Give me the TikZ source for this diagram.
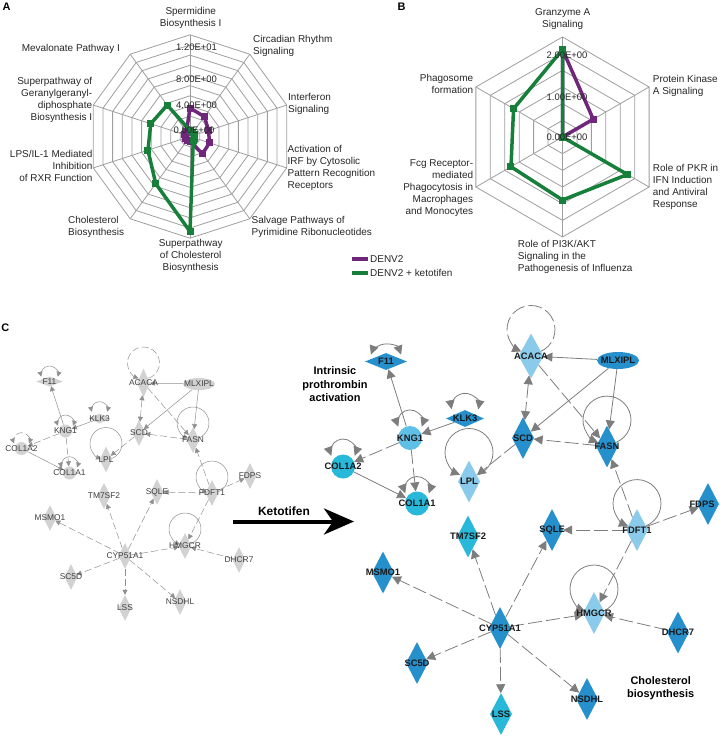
\documentclass[tikz,border=0pt]{standalone}
\usepackage{fontspec}
\setmainfont{Liberation Sans}
\usetikzlibrary{shapes.geometric,arrows.meta}

\definecolor{denvpurple}{RGB}{112,38,122}
\definecolor{ketogreen}{RGB}{22,128,58}
\definecolor{gridgray}{RGB}{158,158,158}
\definecolor{genegray}{RGB}{210,210,210}
\definecolor{edgegray}{RGB}{125,125,125}
\definecolor{hubdark}{RGB}{38,144,205}
\definecolor{hubmid}{RGB}{95,191,231}
\definecolor{hublight}{RGB}{138,203,235}
\definecolor{hubcyan}{RGB}{40,184,218}

\pgfdeclarelayer{edges}
\pgfsetlayers{edges,main}

% self-interaction: arc above a node, lifted by #3, radius #4, from angle #5 to #6
\newcommand{\selfarc}[6]{\draw[#1] ([yshift=#3, shift={(#5:#4)}]#2.center) arc[start angle=#5, end angle=#6, radius=#4];}

\begin{document}
\begin{tikzpicture}[
    x=1bp, y=-1bp,
    lab/.style={font=\fontsize{10}{12}\selectfont, text=black!85, inner sep=0pt},
    ticklab/.style={font=\fontsize{9.5}{11}\selectfont, text=black!85, inner sep=0pt},
    panel/.style={font=\fontsize{11}{13}\selectfont\bfseries, inner sep=0pt},
    note/.style={font=\fontsize{11}{13.5}\selectfont\bfseries, inner sep=0pt, align=center},
    radargrid/.style={draw=gridgray, line width=0.8bp},
    denvline/.style={draw=denvpurple, line width=3.5bp, line join=round},
    ketoline/.style={draw=ketogreen, line width=3.5bp, line join=round},
    denvmark/.style={rectangle, fill=denvpurple, minimum size=7bp, inner sep=0pt},
    ketomark/.style={rectangle, fill=ketogreen, minimum size=7bp, inner sep=0pt},
    gtip/.tip={Triangle[length=5bp,width=5bp]},
    btip/.tip={Triangle[length=9bp,width=9bp]},
    gdia/.style={diamond, fill=genegray, minimum width=13bp, minimum height=26bp, inner sep=0pt},
    gwide/.style={diamond, fill=genegray, minimum width=#1, minimum height=10bp, inner sep=0pt},
    gcirc/.style={circle, fill=genegray, minimum size=13bp, inner sep=0pt},
    goval/.style={ellipse, fill=genegray, minimum width=32bp, minimum height=12bp, inner sep=0pt},
    glabel/.style={font=\fontsize{8.4}{10}\selectfont, text=black!75, inner sep=0pt},
    glab/.style={label={[glabel]center:#1}},
    gline/.style={draw=edgegray!85, line width=0.5bp},
    gdash/.style={gline, dash pattern=on 7bp off 3bp},
    bdia/.style={diamond, fill=#1, minimum width=22bp, minimum height=42bp, inner sep=0pt},
    bdia/.default=hubdark,
    bwide/.style={diamond, fill=hubdark, minimum width=#1, minimum height=17bp, inner sep=0pt},
    bcirc/.style={circle, fill=#1, minimum size=24bp, inner sep=0pt},
    bcirc/.default=hubcyan,
    boval/.style={ellipse, fill=hubdark, minimum width=42bp, minimum height=17bp, inner sep=0pt},
    blabel/.style={font=\fontsize{9.4}{11}\selectfont\bfseries, text=black!90, inner sep=0pt},
    blab/.style={label={[blabel]center:#1}},
    bline/.style={draw=edgegray, line width=0.8bp},
    bdash/.style={bline, dash pattern=on 14bp off 4bp}
]
\useasboundingbox (0,0) rectangle (720,737);

% PANEL A
\node[panel] (pA) at (6.5,6.5) {A};
\begin{scope}[shift={(190,136.5)}]
  \foreach \k in {1,...,10}
    \draw[radargrid] (90:\k*10.17bp) \foreach \i in {1,...,9} {-- (90-36*\i:\k*10.17bp)} -- cycle;
  \foreach \i in {0,...,9}
    \draw[radargrid] (0,0) -- (90-36*\i:101.7bp);
  \draw[denvline] (90:28.5bp) -- (54:24.5bp) -- (18:19.5bp) -- (-18:20.5bp) -- (-54:21.3bp)
    -- (-90:5bp) -- (-126:5bp) -- (-162:5bp) -- (162:6bp) -- (126:6bp) -- cycle;
  \foreach \a/\r in {90/28.5bp, 54/24.5bp, 18/19.5bp, -18/20.5bp, -54/21.3bp, -90/5bp, -126/5bp, -162/5bp, 162/6bp, 126/6bp}
    \node[denvmark] at (\a:\r) {};
  \draw[ketoline] (90:6bp) -- (54:5bp) -- (18:5bp) -- (-18:5bp) -- (-54:5.5bp)
    -- (-90:95bp) -- (-126:58.3bp) -- (-162:44.2bp) -- (162:41.3bp) -- (126:38.8bp) -- cycle;
  \foreach \a/\r in {90/6bp, 54/5bp, 18/5bp, -18/5bp, -54/5.5bp, -90/95bp, -126/58.3bp, -162/44.2bp, 162/41.3bp, 126/38.8bp}
    \node[ketomark] at (\a:\r) {};
\end{scope}
\node[ticklab] (a12) at (196.5,47) {1.20E+01};
\node[ticklab] (a8) at (196.5,79) {8.00E+00};
\node[ticklab] (a4) at (196.5,105) {4.00E+00};
\node[ticklab] (a0) at (194,130) {0.00E+00};

\node[lab, align=center] (spermidine) at (190.7,18) {Spermidine\\Biosynthesis I};
\node[lab, align=left, anchor=west] (circadian) at (253,46) {Circadian Rhythm\\Signaling};
\node[lab, align=left, anchor=west] (interferon) at (288,103.5) {Interferon\\Signaling};
\node[lab, align=left, anchor=west] (irf) at (287.5,168) {Activation of\\IRF by Cytosolic\\Pattern Recognition\\Receptors};
\node[lab, align=left, anchor=west] (salvage) at (251.5,227) {Salvage Pathways of\\Pyrimidine Ribonucleotides};
\node[lab, align=center] (superchol) at (190.7,256) {Superpathway\\of Cholesterol\\Biosynthesis};
\node[lab, align=left, anchor=west] (cholbio) at (68,227) {Cholesterol\\Biosynthesis};
\node[lab, align=right, anchor=east] (lps) at (92.7,165.7) {LPS/IL-1 Mediated\\Inhibition\\of RXR Function};
\node[lab, align=right, anchor=east] (geranyl) at (92.3,100) {Superpathway of\\Geranylgeranyl-\\diphosphate\\Biosynthesis I};
\node[lab, anchor=east] (mevalonate) at (120,49) {Mevalonate Pathway I};

% legend
\coordinate (legD1) at (351.5,259);
\coordinate (legD2) at (368,259);
\coordinate (legK1) at (351.5,273);
\coordinate (legK2) at (368,273);
\draw[denvline] (legD1) -- (legD2);
\draw[ketoline] (legK1) -- (legK2);
\node[lab, anchor=west] (legDtext) at (370,259) {DENV2};
\node[lab, anchor=west] (legKtext) at (370,273) {DENV2 + ketotifen};

% PANEL B
\node[panel] (pB) at (401.7,6.5) {B};
\begin{scope}[shift={(562.5,137)}]
  \foreach \k in {1,...,6}
    \draw[radargrid] (90:\k*16.67bp) \foreach \i in {1,...,5} {-- (90-60*\i:\k*16.67bp)} -- cycle;
  \foreach \i in {0,...,5}
    \draw[radargrid] (0,0) -- (90-60*\i:100bp);
  \draw[denvline] (90:87.5bp) -- (30:35.5bp) -- (-30:0bp) -- (-90:0bp) -- (210:0bp) -- (150:0bp) -- cycle;
  \foreach \a/\r in {90/87.5bp, 30/35.5bp, -30/0bp, -90/0bp, 210/0bp, 150/0bp}
    \node[denvmark] at (\a:\r) {};
  \draw[ketoline] (90:87.5bp) -- (30:0bp) -- (-30:75bp) -- (-90:63bp) -- (210:59.5bp) -- (150:56.5bp) -- cycle;
  \foreach \a/\r in {90/87.5bp, 30/0bp, -30/75bp, -90/63bp, 210/59.5bp, 150/56.5bp}
    \node[ketomark] at (\a:\r) {};
\end{scope}
\node[ticklab] (b2) at (567,55) {2.00E+00};
\node[ticklab] (b1) at (567,97) {1.00E+00};
\node[ticklab] (b0) at (567,137) {0.00E+00};

\node[lab, align=center] (granzyme) at (562.7,19) {Granzyme A\\Signaling};
\node[lab, align=left, anchor=west] (pka) at (652.7,86) {Protein Kinase\\A Signaling};
\node[lab, align=left, anchor=west] (pkr) at (652.7,187) {Role of PKR in\\IFN Induction\\and Antiviral\\Response};
\node[lab, align=left, anchor=west] (pi3k) at (517.7,257) {Role of PI3K/AKT\\Signaling in the\\Pathogenesis of Influenza};
\node[lab, align=right, anchor=east] (fcg) at (473.3,188.5) {Fcg Receptor-\\mediated\\Phagocytosis in\\Macrophages\\and Monocytes};
\node[lab, align=right, anchor=east] (phago) at (473.3,83.5) {Phagosome\\formation};

% PANEL C
\node[panel] (pC) at (5.3,328) {C};

% network before ketotifen
\node[gwide=27bp, glab=F11] (F11a) at (49.5,381.5) {};
\node[gdia, glab=ACACA, minimum height=29bp] (ACACAa) at (143.5,383) {};
\node[goval, glab=MLXIPL] (MLXIPLa) at (199,384) {};
\node[gwide=22bp, glab=KLK3] (KLK3a) at (99.5,418.5) {};
\node[gcirc, glab=KNG1] (KNG1a) at (65.5,431) {};
\node[gdia, glab=SCD] (SCDa) at (139,433) {};
\node[gdia, glab=FASN] (FASNa) at (193,440) {};
\node[gcirc, glab=COL1A2] (COL1A2a) at (21.5,448.5) {};
\node[gdia, glab=LPL] (LPLa) at (106,459.5) {};
\node[gcirc, glab=COL1A1] (COL1A1a) at (69.5,473) {};
\node[gdia, glab=FDPS] (FDPSa) at (250,476) {};
\node[gdia, glab=TM7SF2] (TM7SF2a) at (104,496) {};
\node[gdia, glab=SQLE] (SQLEa) at (157,492) {};
\node[gdia, glab=FDFT1] (FDFT1a) at (212,493) {};
\node[gdia, glab=MSMO1] (MSMO1a) at (50,518) {};
\node[gdia, glab=HMGCR] (HMGCRa) at (185,546) {};
\node[gdia, glab=CYP51A1] (CYP51A1a) at (125,556) {};
\node[gdia, glab=DHCR7] (DHCR7a) at (239,560) {};
\node[gdia, glab=SC5D] (SC5Da) at (71,577) {};
\node[gdia, glab=LSS] (LSSa) at (125,608) {};
\node[gdia, glab=NSDHL] (NSDHLa) at (180,602) {};

\begin{pgfonlayer}{edges}
\selfarc{gline, gtip-gtip}{F11a}{7bp}{8.5bp}{-15}{195}
\selfarc{gline, gtip-gtip}{KNG1a}{8bp}{8bp}{-20}{200}
\selfarc{gline, gtip-gtip}{KLK3a}{8.8bp}{8bp}{-15}{195}
\selfarc{gdash, gtip-gtip}{COL1A2a}{7.8bp}{8bp}{-20}{200}
\selfarc{gline, gtip-gtip}{COL1A1a}{8.3bp}{8bp}{-20}{200}
\selfarc{gline, -gtip}{LPLa}{16bp}{16bp}{-72}{252}
\selfarc{gdash, -gtip}{ACACAa}{20bp}{16bp}{-72}{252}
\selfarc{gline, -gtip}{FASNa}{17bp}{16bp}{-72}{252}
\selfarc{gline, -gtip}{FDFT1a}{16bp}{16bp}{-72}{252}
\selfarc{gline, -gtip}{HMGCRa}{17bp}{16bp}{-72}{252}

\draw[gline, -gtip] (KNG1a) -- (F11a);
\draw[gline, -gtip] (KLK3a) -- (KNG1a);
\draw[gline, -gtip] (COL1A2a) -- (COL1A1a);
\draw[gline, -gtip] (MLXIPLa) -- (ACACAa);
\draw[gline, -gtip] (MLXIPLa) -- (SCDa);
\draw[gline, -gtip] (MLXIPLa) -- (FASNa);
\draw[gdash, -gtip] (KNG1a) -- (COL1A2a);
\draw[gdash, -gtip] (KNG1a) -- (COL1A1a);
\draw[gdash, gtip-gtip] (ACACAa) -- (SCDa);
\draw[gdash, -gtip] (ACACAa) -- (FASNa);
\draw[gdash, -gtip] (FASNa) -- (SCDa);
\draw[gdash, -gtip] (SCDa) -- (LPLa);
\draw[gdash, -gtip] (FDFT1a) -- (FASNa);
\draw[gdash, -gtip] (FDFT1a) -- (FDPSa);
\draw[gdash, -gtip] (FDFT1a) -- (SQLEa);
\draw[gdash, -gtip] (FDFT1a) -- (HMGCRa);
\draw[gdash, -gtip] (DHCR7a) -- (HMGCRa);
\foreach \t in {HMGCRa, SQLEa, TM7SF2a, MSMO1a, SC5Da, LSSa, NSDHLa}
  \draw[gdash, -gtip] (CYP51A1a) -- (\t);
\end{pgfonlayer}

% ketotifen arrow
\coordinate (ketoStart) at (233,521.5);
\coordinate (ketoEnd) at (354,521.5);
\draw[line width=4bp, -{Stealth[length=30bp,width=26bp,inset=9bp]}] (ketoStart) -- (ketoEnd);
\node[font=\fontsize{12}{14}\selectfont\bfseries, inner sep=0pt] (keto) at (284,511.5) {Ketotifen};

% network after ketotifen
\node[bwide=42bp, blab=F11] (F11b) at (386,361.5) {};
\node[bwide=38bp, blab=KLK3] (KLK3b) at (465,418.5) {};
\node[bcirc=hubmid, blab=KNG1] (KNG1b) at (410,438) {};
\node[bcirc, blab=COL1A2] (COL1A2b) at (343,466.5) {};
\node[bcirc, blab=COL1A1] (COL1A1b) at (417,503.5) {};
\node[bdia=hublight, blab=LPL] (LPLb) at (469,481.5) {};
\node[bdia, blab=SCD] (SCDb) at (523,438) {};
\node[bdia=hublight, blab=ACACA, minimum width=25bp, minimum height=45bp] (ACACAb) at (531,356) {};
\node[boval, blab=MLXIPL] (MLXIPLb) at (618,360.5) {};
\node[bdia, blab=FASN] (FASNb) at (607,446.5) {};
\node[bdia=hublight, blab=FDFT1] (FDFT1b) at (637,530) {};
\node[bdia, label={[blabel, xshift=-6bp]center:FDPS}] (FDPSb) at (708,504) {};
\node[bdia, blab=SQLE] (SQLEb) at (552,530) {};
\node[bdia=hubcyan, blab=TM7SF2] (TM7SF2b) at (468,536.5) {};
\node[bdia, blab=MSMO1] (MSMO1b) at (383,572.5) {};
\node[bdia, blab=CYP51A1] (CYP51A1b) at (500,628) {};
\node[bdia=hublight, blab=HMGCR] (HMGCRb) at (594,613) {};
\node[bdia, blab=DHCR7] (DHCR7b) at (678,632.5) {};
\node[bdia, blab=SC5D] (SC5Db) at (417,663) {};
\node[bdia=hubcyan, blab=LSS] (LSSb) at (501,714) {};
\node[bdia, blab=NSDHL] (NSDHLb) at (587,699) {};

\begin{pgfonlayer}{edges}
\selfarc{bline, btip-btip}{F11b}{1.5bp}{16bp}{20}{160}
\selfarc{bline, btip-btip}{KNG1b}{15.6bp}{12.5bp}{-20}{200}
\selfarc{bline, btip-btip}{KLK3b}{11.6bp}{13.6bp}{-10}{190}
\selfarc{bline, btip-btip}{COL1A2b}{15bp}{12.5bp}{-20}{200}
\selfarc{bline, btip-btip}{COL1A1b}{14.5bp}{12.5bp}{-20}{200}
\selfarc{bline, -btip}{LPLb}{29bp}{24bp}{-68}{248}
\selfarc{bdash, -btip}{ACACAb}{26.5bp}{24bp}{-66}{246}
\selfarc{bline, -btip}{FASNb}{26.4bp}{24bp}{-68}{248}
\selfarc{bline, -btip}{FDFT1b}{26.4bp}{24bp}{-68}{248}
\selfarc{bline, -btip}{HMGCRb}{24bp}{24bp}{-68}{248}

\draw[bline, -btip] (KNG1b) -- (F11b);
\draw[bline, -btip] (KLK3b) -- (KNG1b);
\draw[bline, -btip] (COL1A2b) -- (COL1A1b);
\draw[bline, -btip] (MLXIPLb) -- (ACACAb);
\draw[bline, -btip] (MLXIPLb) -- (SCDb);
\draw[bline, -btip] (MLXIPLb) -- (FASNb);
\draw[bdash, -btip] (KNG1b) -- (COL1A2b);
\draw[bdash, -btip] (KNG1b) -- (COL1A1b);
\draw[bdash, btip-btip] (ACACAb) -- (SCDb);
\draw[bdash, -btip] (ACACAb) -- (FASNb);
\draw[bdash, -btip] (FASNb) -- (SCDb);
\draw[bdash, -btip] (SCDb) -- (LPLb);
\draw[bdash, -btip] (FDFT1b) -- (FASNb);
\draw[bdash, -btip] (FDFT1b) -- (FDPSb);
\draw[bdash, -btip] (FDFT1b) -- (SQLEb);
\draw[bdash, -btip] (FDFT1b) -- (HMGCRb);
\draw[bdash, -btip] (DHCR7b) -- (HMGCRb);
\foreach \t in {HMGCRb, SQLEb, TM7SF2b, MSMO1b, SC5Db, LSSb, NSDHLb}
  \draw[bdash, -btip] (CYP51A1b) -- (\t);
\end{pgfonlayer}

\node[note] (intrinsic) at (335,384.5) {Intrinsic\\prothrombin\\activation};
\node[note] (cholnote) at (660.7,688) {Cholesterol\\biosynthesis};

\end{tikzpicture}
\end{document}
